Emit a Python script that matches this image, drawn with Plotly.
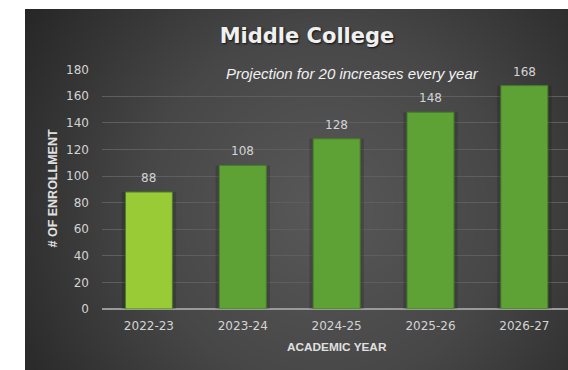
import numpy as np
import plotly.graph_objects as go

# Enrollment projection data
years = ["2022-23", "2023-24", "2024-25", "2025-26", "2026-27"]
enrollment = [88, 108, 128, 148, 168]
bar_colors = ["#98CB35", "#5EA135", "#5EA135", "#5EA135", "#5EA135"]
y_ticks = [0, 20, 40, 60, 80, 100, 120, 140, 160, 180]

W, H = 568, 370
ML, MT = 25, 9
PW, PH = W - ML, H - MT

# Radial background shading for the chart panel
gx = np.linspace(-0.05, 1.05, 70)
gy = np.linspace(-0.05, 1.05, 70)
X, Y = np.meshgrid(gx, gy)
r = np.sqrt(((X - 0.55) * PW) ** 2 + ((Y - 0.45) * PH) ** 2)
r = r / r.max()

fig = go.Figure()

fig.add_trace(go.Heatmap(
    x=gx, y=gy, z=r, zsmooth="best", showscale=False, hoverinfo="skip",
    colorscale=[[0, "#585858"], [0.45, "#474747"], [1, "#202020"]],
    xaxis="x", yaxis="y",
))

# soft dark halo behind the bars
fig.add_trace(go.Bar(
    x=years, y=enrollment, width=0.58,
    marker=dict(color="rgba(0,0,0,0.16)", line=dict(width=0)),
    xaxis="x2", yaxis="y2", hoverinfo="skip",
))
fig.add_trace(go.Bar(
    x=years, y=enrollment, width=0.5,
    marker=dict(color=bar_colors, line=dict(color="#467F26", width=1)),
    xaxis="x2", yaxis="y2", hoverinfo="x+y",
))

# value labels above each bar
for yr, v in zip(years, enrollment):
    fig.add_annotation(
        x=yr, y=v, xref="x2", yref="y2", text=str(v), showarrow=False,
        xanchor="center", yanchor="middle", yshift=14,
        font=dict(family="DejaVu Sans", size=12, color="#D4D4D4"),
    )

fig.add_annotation(
    x=(52.5 - ML) / PW, y=(H - 189) / PH, xref="paper", yref="paper",
    xanchor="center", yanchor="middle",
    text="# OF ENROLLMENT", textangle=-90, showarrow=False,
    font=dict(family="Liberation Sans", size=12.5, color="#E0E0E0", weight="bold"),
)
fig.add_annotation(
    x=(337 - ML) / PW, y=(H - 347) / PH, xref="paper", yref="paper",
    xanchor="center", yanchor="middle",
    text="ACADEMIC YEAR", showarrow=False,
    font=dict(family="Liberation Sans", size=11.8, color="#E0E0E0", weight="bold"),
)
fig.add_annotation(
    x=(352 - ML) / PW, y=(H - 73) / PH, xref="paper", yref="paper",
    xanchor="center", yanchor="middle",
    text="Projection for 20 increases every year", showarrow=False,
    font=dict(family="Liberation Sans", size=15, color="#F2F2F2", style="italic"),
)

fig.update_layout(
    width=W, height=H,
    margin=dict(l=ML, r=0, t=MT, b=0, pad=0),
    paper_bgcolor="white", plot_bgcolor="rgba(0,0,0,0)",
    showlegend=False, barmode="overlay",
    title=dict(
        text="<b>Middle College</b>", x=307 / W, y=1 - 36 / H,
        xanchor="center", yanchor="middle",
        font=dict(family="DejaVu Sans", size=21, color="#F0F0F0",
                  shadow="1px 1px 2px #111111"),
    ),
    xaxis=dict(domain=[0, 1], range=[0, 1], visible=False, fixedrange=True),
    yaxis=dict(domain=[0, 1], range=[0, 1], visible=False, fixedrange=True),
    xaxis2=dict(
        domain=[(102 - ML) / PW, 1], range=[-0.5, 4.465], anchor="y2",
        showgrid=False, tickfont=dict(family="DejaVu Sans", size=12, color="#D4D4D4"),
        ticklabelstandoff=8, showline=False, automargin=False,
    ),
    yaxis2=dict(
        domain=[(H - 309) / PH, (H - 69.7) / PH], range=[0, 180], anchor="x2",
        tickvals=y_ticks, showgrid=True, gridcolor="#5E5E5E", gridwidth=1,
        zeroline=True, zerolinecolor="#9A9A9A", zerolinewidth=1.5,
        tickfont=dict(family="DejaVu Sans", size=12, color="#D4D4D4"),
        ticklabelstandoff=12, automargin=False,
    ),
)

fig.write_html("out.html")
